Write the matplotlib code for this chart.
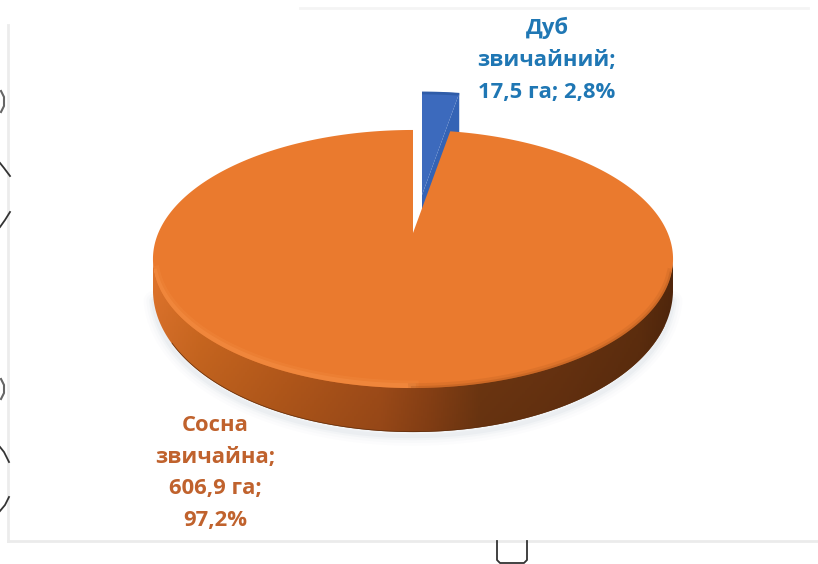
import numpy as np
import matplotlib
matplotlib.use('Agg')
import matplotlib.pyplot as plt
from matplotlib.colors import LinearSegmentedColormap
from matplotlib.patches import Polygon

plt.rcParams['font.family'] = ['Open Sans', 'DejaVu Sans']

species = ['Дуб\nзвичайний;', 'Сосна\nзвичайна;']
areas = [17.5, 606.9]
area_labels = ['17,5 га; 2,8%', '606,9 га;\n97,2%']

oak_color = '#3c6abd'
oak_side = '#3463b5'
pine_color = '#ea7a2e'

# pie geometry, in pixels
cx, cy = 413, 233
ax_x, ax_y = 254.7, 123.8
persp = 0.2016
depth = 44
oak_shift = (9, -38)


def project(theta):
    # circle seen in perspective, theta goes clockwise from the top
    x, y = np.sin(theta), np.cos(theta)
    return cx + ax_x * x / (1 + persp * y), cy - ax_y * y / (1 + persp * y)


def wall_depth(theta):
    # the lower edge rounds off towards the sides of the pie
    return depth * (0.62 - 0.38 * np.cos(theta))


fig = plt.figure(figsize=(8.18, 5.64), dpi=100)
ax = fig.add_axes([0, 0, 1, 1])
ax.set_axis_off()

fractions = np.array(areas) / sum(areas)
split = 2 * np.pi * fractions[0]

# panel border
ax.plot([8, 8], [25, 541], color='#ececec', lw=2)
ax.plot([8, 818], [541, 541], color='#ebebeb', lw=2)
ax.plot([300, 808], [8, 8], color='#f4f4f4', lw=2)

# bits of neighbouring drawing that stick into the frame
for xs, ys in [([0, 4, 10], [163, 168, 176]), ([10, 5, 0], [212, 220, 227]),
               ([0, 4, 9], [447, 452, 462]), ([9, 5, 0], [497, 505, 511])]:
    ax.plot(xs, ys, color='#333333', lw=1.3)
for ys in [(91, 112), (379, 399)]:
    ax.plot([1, 4, 4, 1], [ys[0], ys[0] + 6, ys[1] - 6, ys[1]], color='#666666', lw=1.5)
ax.plot([497, 497, 500, 524, 527, 527], [541, 560, 563, 563, 560, 541], color='#333333', lw=1.3)

# soft shadow under the pie
front = np.linspace(np.pi * 0.58, np.pi * 1.42, 200)
fx, fy = project(front)
for w, a in [(14, 0.025), (10, 0.03), (6, 0.05), (3, 0.07)]:
    ax.plot(fx, fy + wall_depth(front) + 4, color='#8fa3b8', lw=w, alpha=a, solid_capstyle='round')

# oak slice, pulled out of the pie
oak_t = np.linspace(0, split, 30)
ox, oy = project(oak_t)
ox, oy = ox + oak_shift[0], oy + oak_shift[1]
apex = (cx + oak_shift[0], cy + oak_shift[1])
ax.add_patch(Polygon([(ox[-1], oy[-1]), (ox[-1], oy[-1] + depth),
                      (apex[0], apex[1] + depth), apex], fc=oak_side, ec='none'))
ax.add_patch(Polygon(list(zip(ox, oy)) + [apex], fc=oak_color, ec='none'))
ax.plot(ox, oy + 1, color='#2f5ca8', lw=2, solid_capstyle='butt')

# pine side wall, shaded left to right and a little darker towards the bottom
wall_x = np.array([153, 200, 280, 380, 430, 480, 560, 640, 673])
wall_rgb = ['#d8702a', '#cc6820', '#bd5d1c', '#a8501a', '#904416', '#733912', '#6b3411', '#5e2e0e', '#4f260c']
wall_cmap = LinearSegmentedColormap.from_list('wall', list(zip((wall_x - 153) / 520, wall_rgb)))
wall_t = np.linspace(np.pi / 2 + 0.2, 3 * np.pi / 2 - 0.2, 300)
wx, wy = project(wall_t)
wb = wy + wall_depth(wall_t)
outline = list(zip(wx, wy - 2)) + list(zip(wx[::-1], wb[::-1]))
wall = Polygon(outline, fc='none', ec='none')
ax.add_patch(wall)
grad = wall_cmap(np.linspace(0, 1, 520))[None, :, :3]
shade = np.linspace(1.06, 0.88, 100)[:, None, None]
im = ax.imshow(np.clip(grad * shade, 0, 1), extent=(153, 673, 440, 240), aspect='auto', zorder=2)
im.set_clip_path(wall)
rim_t = np.linspace(np.pi / 2 + 0.45, np.pi * 1.32, 200)
rx, ry = project(rim_t)
rim, = ax.plot(rx, ry + wall_depth(rim_t), color='#5c2c0c', lw=1.1, alpha=0.85, zorder=2.5)
rim.set_clip_path(wall)

# pine top face
pine_t = np.linspace(split, 2 * np.pi, 500)
px, py = project(pine_t)
pine_top = Polygon(list(zip(px, py)) + [(cx, cy)], fc=pine_color, ec='none', zorder=3)
ax.add_patch(pine_top)

# bevel along the front rim, kept inside the top face
lit_t = np.linspace(np.pi * 1.0, np.pi * 1.4, 150)
lx, ly = project(lit_t)
for w, a in [(8, 0.2), (4, 0.35)]:
    line, = ax.plot(lx, ly - 2, color='#f8954c', lw=w, alpha=a, zorder=3.1)
    line.set_clip_path(pine_top)
dark_t = np.linspace(np.pi * 0.6, np.pi, 150)
dx, dy = project(dark_t)
for w, a in [(7, 0.1), (3, 0.18)]:
    line, = ax.plot(dx, dy, color='#7a3a10', lw=w, alpha=a, zorder=3.1)
    line.set_clip_path(pine_top)

ax.text(547, 60, species[0] + '\n' + area_labels[0], color='#1f77b4', fontsize=15.8, fontweight='bold',
        ha='center', va='center', linespacing=1.68, zorder=5)
ax.text(215, 473, species[1] + '\n' + area_labels[1], color='#c0622d', fontsize=15.8, fontweight='bold',
        ha='center', va='center', linespacing=1.68, zorder=5)

ax.set_xlim(0, 818)
ax.set_ylim(564, 0)
fig.savefig('out.png', dpi=100)
